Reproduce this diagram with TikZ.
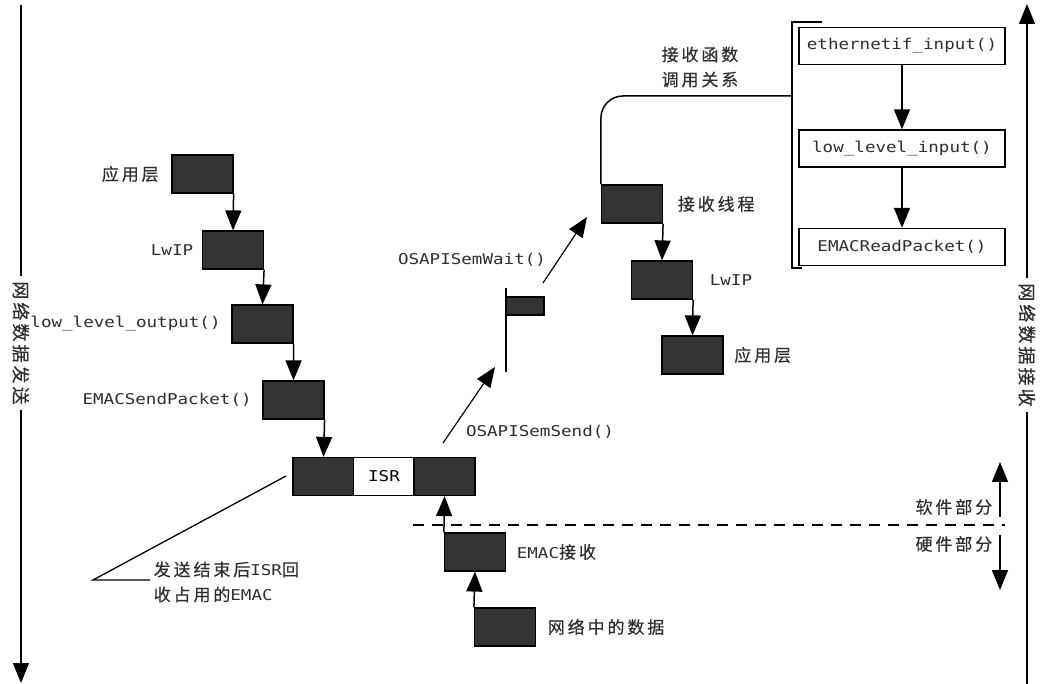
\documentclass[tikz,border=0pt]{standalone}
\usepackage{fontspec}
\setmainfont{Noto Sans CJK SC}[LetterSpace=17, FakeBold=0.4]
\newfontfamily\mono{DejaVu Sans Mono}[FakeStretch=1.18, Scale=0.875]
\usetikzlibrary{arrows.meta,positioning}
\definecolor{darkbox}{HTML}{333333}
\definecolor{txt}{HTML}{2E2E2E}

\begin{document}
\begin{tikzpicture}[x=1pt, y=-1pt, font=\fontsize{17}{25}\selectfont, line width=1.5pt,
	blk/.style = {draw=black, line width=1.2pt, fill=darkbox, minimum width=61pt, minimum height=38pt, inner sep=0pt},
	fn/.style = {draw=black, line width=1.3pt, minimum width=206pt, minimum height=37pt, inner sep=0pt, text=txt, font=\fontsize{17}{18}\selectfont\mono},
	lbl/.style = {text=txt, inner sep=0pt},
	axis/.style = {lbl, fill=white, rotate=-90, inner xsep=5pt, inner ysep=1pt, font=\fontsize{18}{20}\selectfont},
	arr/.style = {-{Triangle[width=16pt,length=20pt]}}]
	\useasboundingbox (0,0) rectangle (1045,684);

	% direction axes
	\coordinate (lt) at (21,5);
	\coordinate (lb) at (21,683);
	\draw[arr] (lt) -- (lb);
	\node[axis] at (21,343) {网络数据发送};
	\coordinate (rb) at (1027,684);
	\coordinate (rt) at (1027,4);
	\draw[arr] (rb) -- (rt);
	\node[axis] at (1027,345) {网络数据接收};

	% sending side
	\node[blk] (s1) at (202.5,174) {};
	\node[blk] (s2) at (233,250) {};
	\node[blk] (s3) at (262.5,324) {};
	\node[blk] (s4) at (293.5,400) {};
	\node[blk] (isrl) at (323.5,476.5) {};
	\node[blk, fill=white] (isr) at (384,476.5) {\mono ISR};
	\node[blk] (isrr) at (444.5,476.5) {};
	\node[lbl, left=12pt of s1] {应用层};
	\node[lbl, left=8pt of s2] {\mono LwIP};
	\node[lbl, left=10pt of s3] {\mono low\_level\_output()};
	\node[lbl, left=10pt of s4] {\mono EMACSendPacket()};
	\draw[arr] (s1.south east) -- (s2.north);
	\draw[arr] (s2.south east) -- (s3.north);
	\draw[arr] (s3.south east) -- (s4.north);
	\draw[arr] (s4.south east) -- (isrl.north);

	% note
	\coordinate (n1) at (286,476);
	\coordinate (n2) at (93,580);
	\coordinate (n3) at (150,580);
	\draw[line width=1.3pt] (n1) -- (n2) -- (n3);
	\node[lbl, anchor=west, align=left] (note) at (153,582) {发送结束后{\mono ISR}回\\收占用的{\mono EMAC}};

	% hardware
	\node[blk] (emac) at (475,552) {};
	\node[blk] (net) at (505,627) {};
	\node[lbl, right=10pt of emac] {{\mono EMAC}接收};
	\node[lbl, right=11pt of net] {网络中的数据};
	\draw[arr] (net.north west) -- (emac.south);
	\draw[arr] (emac.north west) -- (isrr.south);

	% semaphores
	\coordinate (sem1) at (443,443);
	\coordinate (sem2) at (495,367);
	\draw[arr, line width=1.2pt] (sem1) -- (sem2);
	\node[lbl] at (540,432) {\mono OSAPISemSend()};
	\coordinate (flagt) at (506,288);
	\coordinate (flagb) at (506,372);
	\draw (flagt) -- (flagb);
	\node[blk, minimum width=38pt, minimum height=18pt] (flag) at (525,306) {};
	\coordinate (wait1) at (543,283);
	\coordinate (wait2) at (587,217);
	\draw[arr, line width=1.2pt] (wait1) -- (wait2);
	\node[lbl] at (472,260) {\mono OSAPISemWait()};

	% receiving side
	\node[blk] (r1) at (632,204) {};
	\node[blk] (r2) at (662,280) {};
	\node[blk] (r3) at (692.5,355) {};
	\node[lbl, right=14pt of r1] {接收线程};
	\node[lbl, right=16pt of r2] {\mono LwIP};
	\node[lbl, right=10pt of r3] {应用层};
	\draw[arr] (r1.south east) -- (r2.north);
	\draw[arr] (r2.south east) -- (r3.north);

	% call chain
	\node[fn] (f1) at (902,46) {ethernetif\_input()};
	\node[fn] (f2) at (902,148.5) {low\_level\_input()};
	\node[fn] (f3) at (902,247) {EMACReadPacket()};
	\draw[arr] (f1) -- (f2);
	\draw[arr] (f2) -- (f3);
	\coordinate (bt) at (822,22);
	\coordinate (bb) at (802,268);
	\draw (bt) -- (792,22) -- (792,268) -- (bb);
	\coordinate (bm) at (792,96);
	\draw[rounded corners=22pt] (r1.north west) -- (r1.north west |- bm) -- (bm);
	\node[lbl, align=center] at (700,67) {接收函数\\调用关系};

	% software / hardware
	\coordinate (dl) at (413,525);
	\coordinate (dr) at (1005,525);
	\draw[dash pattern=on 11pt off 8pt] (dl) -- (dr);
	\coordinate (sw1) at (1000,517);
	\coordinate (sw2) at (1000,462);
	\coordinate (hw1) at (1000,535);
	\coordinate (hw2) at (1000,590);
	\draw[arr] (sw1) -- (sw2);
	\draw[arr] (hw1) -- (hw2);
	\node[lbl, anchor=east] at (993,507) {软件部分};
	\node[lbl, anchor=east] at (993,544) {硬件部分};
\end{tikzpicture}
\end{document}
